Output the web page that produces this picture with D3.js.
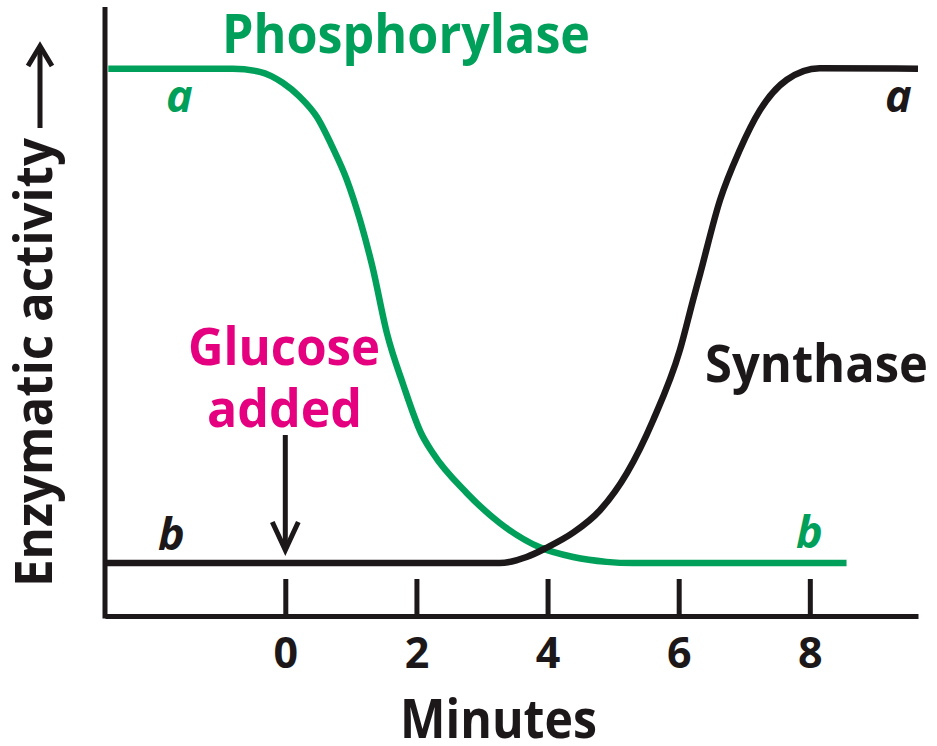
<!DOCTYPE html>
<html>
<head>
<meta charset="utf-8">
<script src="https://cdn.jsdelivr.net/npm/d3@7"></script>
<style>
  body { margin: 0; background: #fff; }
  text { font-family: "Open Sans", sans-serif; font-weight: 700; }
</style>
</head>
<body>
<div id="chart"></div>
<script>
const width = 937;
const height = 746;

// Phosphorylase (green) - minutes vs relative activity
const phosMinutes = [-2.7, -0.8, -0.39, -0.04, 0.22, 0.48, 0.72, 0.94, 1.14, 1.33, 1.55, 1.8, 2.07, 2.25, 2.77, 3.27, 3.88, 4.39, 4.9, 5.3, 8.56];
const phosActivity = [90, 90, 89.5, 87.7, 85.4, 82.1, 77.1, 71.7, 65.1, 57.4, 46.5, 38.0, 30.1, 26.8, 20.2, 15.3, 11.3, 9.7, 8.9, 8.7, 8.7];

// Synthase (black)
const synMinutes = [-2.72, 3.27, 3.68, 3.98, 4.39, 4.8, 5.21, 5.61, 6.02, 6.22, 6.33, 6.63, 6.93, 7.24, 7.65, 8.15, 9.65];
const synActivity = [8.7, 8.7, 9.7, 11.2, 13.7, 17.4, 23.5, 32.2, 43.8, 52.0, 56.4, 68.4, 76.6, 83.2, 88.2, 90.1, 90];

const tickMinutes = [0, 2, 4, 6, 8];
const glucoseMinute = 0;

const GREEN = "#00a05a";
const BLACK = "#1c1718";
const MAGENTA = "#e4007f";

const x = d3.scaleLinear().domain([-2.75, 9.65]).range([105, 918]);
const y = d3.scaleLinear().domain([0, 100]).range([616, 8]);

const svg = d3.select("#chart")
	.append("svg")
	.attr("width", width)
	.attr("height", height);

// axes
const xAxis = svg.append("g")
	.attr("transform", `translate(0, ${y(0)})`)
	.call(d3.axisBottom(x).tickValues(tickMinutes).tickSizeInner(-37).tickSizeOuter(0).tickPadding(21).tickFormat(d3.format("d")));
xAxis.select(".domain").attr("stroke", BLACK).attr("stroke-width", 5);
xAxis.selectAll(".tick line").attr("stroke", BLACK).attr("stroke-width", 5);
xAxis.selectAll(".tick text")
	.attr("fill", BLACK)
	.attr("font-size", 43)
	.attr("font-family", "'Open Sans', sans-serif")
	.attr("font-weight", 700);

const yAxis = svg.append("g")
	.attr("transform", `translate(${x.range()[0]}, 0)`)
	.call(d3.axisLeft(y).tickValues([]).tickSizeOuter(0));
yAxis.select(".domain")
	.attr("stroke", BLACK)
	.attr("stroke-width", 5)
	.attr("d", `M0,${y(0) + 2.5}V${y(100) - 1}`);

// curves
const line = d3.line()
	.x((d) => x(d[0]))
	.y((d) => y(d[1]))
	.curve(d3.curveMonotoneX);

svg.append("path")
	.datum(d3.zip(phosMinutes, phosActivity))
	.attr("fill", "none")
	.attr("stroke", GREEN)
	.attr("stroke-width", 6.5)
	.attr("d", line);

svg.append("path")
	.datum(d3.zip(synMinutes, synActivity))
	.attr("fill", "none")
	.attr("stroke", BLACK)
	.attr("stroke-width", 6.5)
	.attr("d", line);

// text helper: left edge, baseline, target width
function label(txt, lx, by, w, size, color, italic) {
	const t = svg.append("text")
		.attr("x", lx)
		.attr("y", by)
		.attr("font-size", size)
		.attr("fill", color)
		.text(txt);
	if (italic) t.attr("font-style", "italic");
	if (w) t.attr("textLength", w).attr("lengthAdjust", "spacingAndGlyphs");
	return t;
}

label("Phosphorylase", 222, 53, 368, 53, GREEN);
label("Synthase", 705, 382, 223, 52, BLACK);
label("Glucose", 188, 365, 192, 52, MAGENTA);
label("added", 207, 427, 155, 52, MAGENTA);
label("Minutes", 400, 738, 197, 53, BLACK);

label("a", 166, 112, null, 45, GREEN, true);
label("a", 885, 112, null, 45, BLACK, true);
label("b", 158, 550, null, 45, BLACK, true);
label("b", 796, 548, null, 45, GREEN, true);

// y label, rotated
svg.append("text")
	.attr("transform", "translate(52, 587) rotate(-90)")
	.attr("font-size", 52)
	.attr("fill", BLACK)
	.attr("textLength", 449)
	.attr("lengthAdjust", "spacingAndGlyphs")
	.text("Enzymatic activity");

// y label arrow
svg.append("path")
	.attr("d", "M40,128V47")
	.attr("stroke", BLACK)
	.attr("stroke-width", 5)
	.attr("fill", "none");
svg.append("path")
	.attr("d", "M28,66L40,46L52,66")
	.attr("stroke", BLACK)
	.attr("stroke-width", 5)
	.attr("fill", "none");

// glucose arrow
const gx = x(glucoseMinute);
svg.append("path")
	.attr("d", `M${gx},435V548`)
	.attr("stroke", BLACK)
	.attr("stroke-width", 5)
	.attr("fill", "none");
svg.append("path")
	.attr("d", `M${gx - 13},522L${gx},550L${gx + 13},522`)
	.attr("stroke", BLACK)
	.attr("stroke-width", 5)
	.attr("fill", "none");
</script>
</body>
</html>
